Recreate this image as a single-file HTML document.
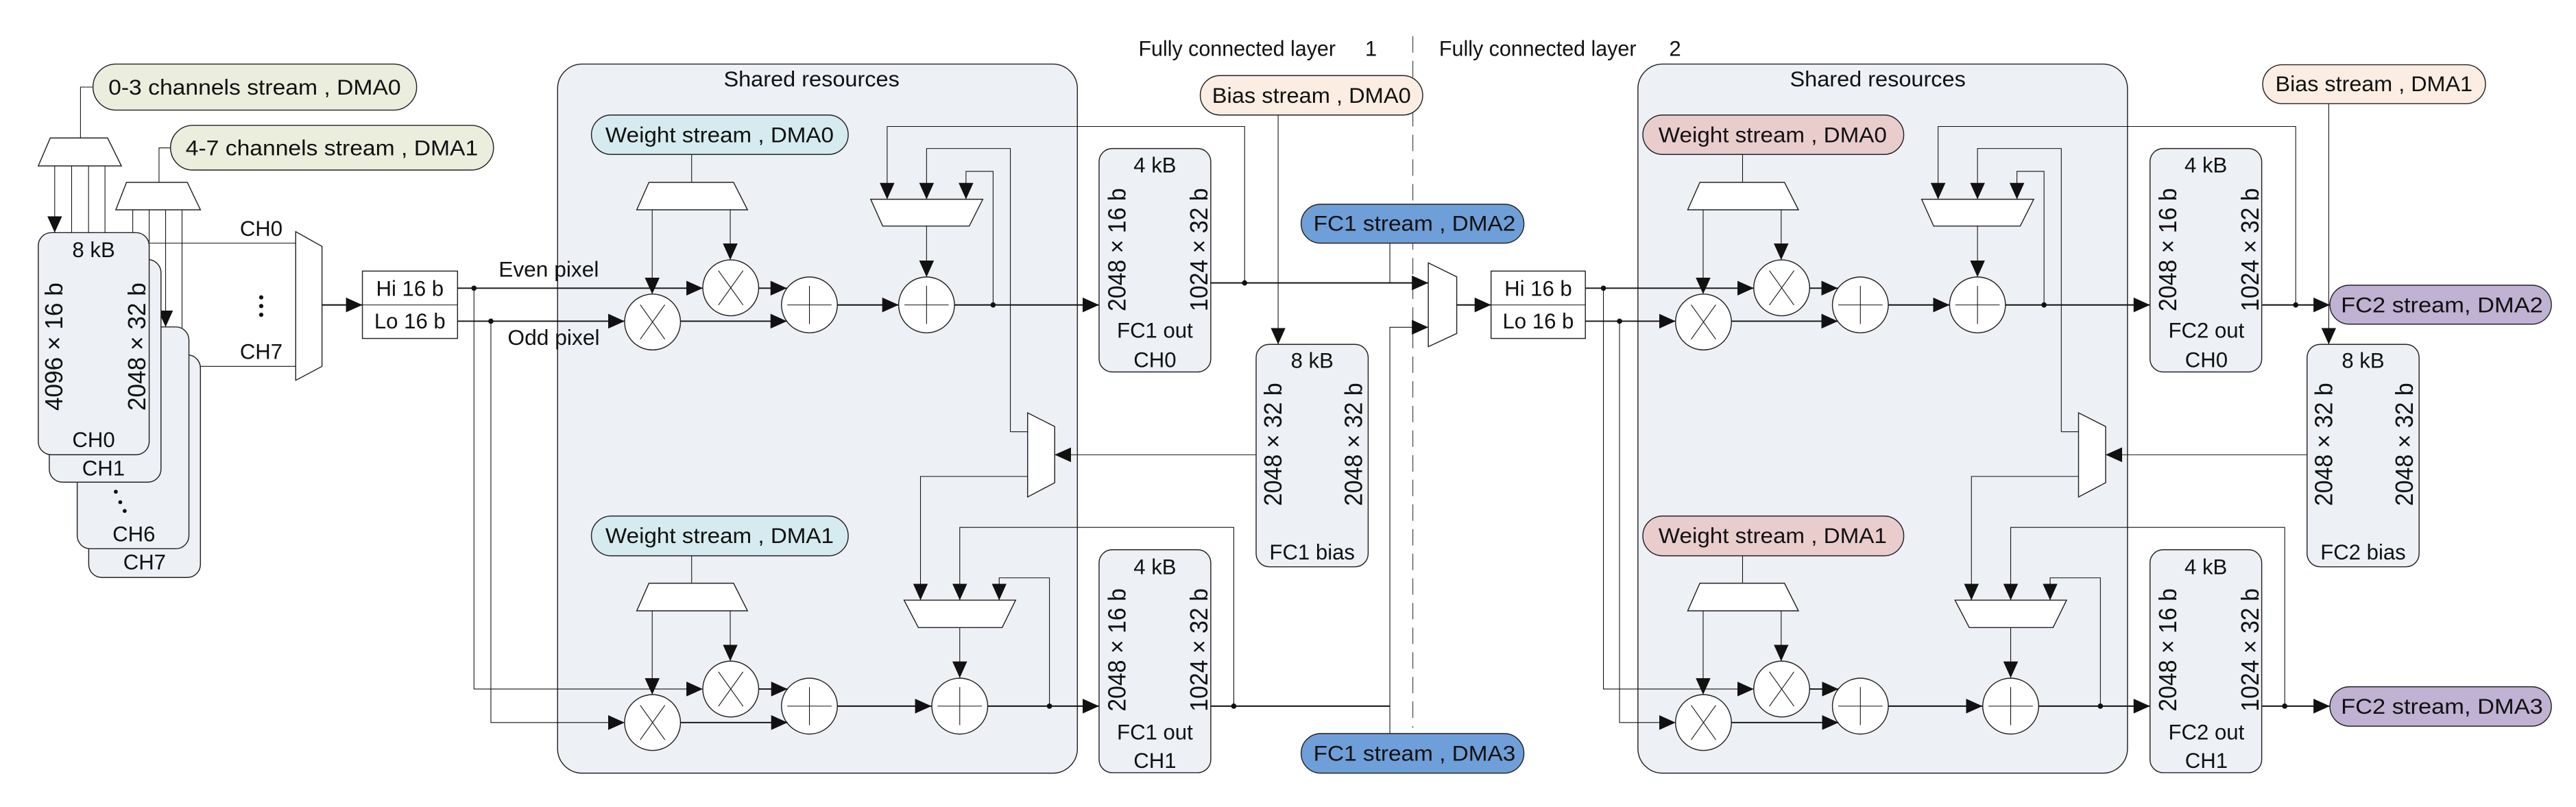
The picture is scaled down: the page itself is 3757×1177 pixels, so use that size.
<!DOCTYPE html>
<html><head><meta charset="utf-8"><style>
html,body{margin:0;padding:0;background:#fff;}
svg{display:block;}
text{font-family:"Liberation Sans",Arial,sans-serif;font-size:13px;fill:#111;}
.r{font-size:15px;}
.t{stroke:#111;stroke-width:0.45;fill:none;}
.k{stroke:#111;stroke-width:0.8;fill:none;}
.bx{fill:#edf0f5;stroke:#222;stroke-width:0.6;}
.w{fill:#fff;stroke:#222;stroke-width:0.6;}
</style></head><body>
<svg width="3757" height="1177" viewBox="0 0 1568 491.2" preserveAspectRatio="none" xmlns="http://www.w3.org/2000/svg">
<defs>
<marker id="a" markerWidth="10" markerHeight="9" refX="10" refY="4.5" orient="auto" markerUnits="userSpaceOnUse"><path d="M0,0L10,4.5L0,9z" fill="#111"/></marker>
<g id="core">
  <!-- weight muxes -->
  <line class="t" x1="421" y1="94" x2="421" y2="111"/>
  <polygon class="w" points="395,111 446.5,111 455,127.7 387.6,127.7"/>
  <line class="t" x1="397" y1="127.7" x2="397" y2="179" marker-end="url(#a)"/>
  <line class="t" x1="444.5" y1="127.7" x2="444.5" y2="158.2" marker-end="url(#a)"/>
  <line class="t" x1="421" y1="338.3" x2="421" y2="355"/>
  <polygon class="w" points="395,355 446.5,355 455,371.8 387.6,371.8"/>
  <line class="t" x1="397" y1="371.8" x2="397" y2="422.8" marker-end="url(#a)"/>
  <line class="t" x1="444.5" y1="371.8" x2="444.5" y2="402.4" marker-end="url(#a)"/>
  <!-- mults -->
  <g class="w"><circle cx="397.2" cy="196" r="17"/><circle cx="444.8" cy="175.2" r="17"/><circle cx="397.2" cy="439.8" r="17"/><circle cx="444.8" cy="419.4" r="17"/></g>
  <path class="t" d="M389.7,185.5L404.7,206.5M404.7,185.5L389.7,206.5 M437.3,164.7L452.3,185.7M452.3,164.7L437.3,185.7 M389.7,429.3L404.7,450.3M404.7,429.3L389.7,450.3 M437.3,408.9L452.3,429.9M452.3,408.9L437.3,429.9"/>
  <!-- adds -->
  <g class="w"><circle cx="492.7" cy="185.6" r="17"/><circle cx="564" cy="185.6" r="17"/><circle cx="492.7" cy="429.8" r="17"/><circle cx="584.2" cy="429.8" r="17"/></g>
  <path class="t" d="M479.2,185.6H506.2M492.7,174V197.2 M550.5,185.6H577.5M564,174V197.2 M479.2,429.8H506.2M492.7,418.2V441.4 M570.7,429.8H597.7M584.2,418.2V441.4"/>
  <line class="k" x1="461.8" y1="175.4" x2="479" y2="175.4" marker-end="url(#a)"/>
  <line class="k" x1="414.2" y1="195.5" x2="479" y2="195.5" marker-end="url(#a)"/>
  <line class="k" x1="509.7" y1="185.6" x2="547" y2="185.6" marker-end="url(#a)"/>
  <line class="k" x1="581" y1="185.6" x2="669" y2="185.6" marker-end="url(#a)"/>
  <line class="k" x1="461.8" y1="419.4" x2="479.4" y2="419.4" marker-end="url(#a)"/>
  <line class="k" x1="414.2" y1="439.8" x2="479.4" y2="439.8" marker-end="url(#a)"/>
  <line class="k" x1="509.7" y1="429.8" x2="567" y2="429.8" marker-end="url(#a)"/>
  <line class="k" x1="601.2" y1="429.8" x2="669" y2="429.8" marker-end="url(#a)"/>
  <circle cx="604.5" cy="185.6" r="1.6" fill="#111"/>
  <circle cx="638.8" cy="429.8" r="1.6" fill="#111"/>
  <!-- acc muxes -->
  <polygon class="w" points="530,121.3 598.2,121.3 590,137.6 537.3,137.6"/>
  <line class="t" x1="564" y1="137.6" x2="564" y2="168.6" marker-end="url(#a)"/>
  <polyline class="t" points="615,262.8 615,90.4 564,90.4 564,121.3" marker-end="url(#a)"/>
  <polyline class="t" points="604.5,185.6 604.5,104.3 588,104.3 588,121.3" marker-end="url(#a)"/>
  <polygon class="w" points="625.5,251.3 642,259.6 642,293.8 625.5,302.5"/>
  <line class="t" x1="615" y1="262.8" x2="625.5" y2="262.8"/>
  <polyline class="t" points="625.5,290 560.3,290 560.3,365.3" marker-end="url(#a)"/>
  <line class="t" x1="764.6" y1="276.8" x2="642" y2="276.8" marker-end="url(#a)"/>
  <polygon class="w" points="550.3,365.3 618.2,365.3 610,382 559,382"/>
  <line class="t" x1="584.2" y1="382" x2="584.2" y2="412.6" marker-end="url(#a)"/>
  <polyline class="t" points="751,429.8 751,321 584.2,321 584.2,365.3" marker-end="url(#a)"/>
  <polyline class="t" points="638.8,429.8 638.8,351.7 608.2,351.7 608.2,365.3" marker-end="url(#a)"/>
  <!-- boxes -->
  <rect class="bx" x="669" y="90.4" width="68" height="136" rx="8"/>
  <rect class="bx" x="669" y="334.6" width="68" height="135.7" rx="8"/>
  <rect class="bx" x="764.6" y="209.6" width="68.2" height="135.4" rx="8"/>
  <g class="r">
  <text class="r" transform="translate(685,152) rotate(-90)" text-anchor="middle" textLength="75" lengthAdjust="spacingAndGlyphs">2048 × 16 b</text>
  <text class="r" transform="translate(735,152) rotate(-90)" text-anchor="middle" textLength="75" lengthAdjust="spacingAndGlyphs">1024 × 32 b</text>
  <text class="r" transform="translate(685,395.6) rotate(-90)" text-anchor="middle" textLength="75" lengthAdjust="spacingAndGlyphs">2048 × 16 b</text>
  <text class="r" transform="translate(735,395.6) rotate(-90)" text-anchor="middle" textLength="75" lengthAdjust="spacingAndGlyphs">1024 × 32 b</text>
  <text class="r" transform="translate(780,270.5) rotate(-90)" text-anchor="middle" textLength="75" lengthAdjust="spacingAndGlyphs">2048 × 32 b</text>
  <text class="r" transform="translate(829,270.5) rotate(-90)" text-anchor="middle" textLength="75" lengthAdjust="spacingAndGlyphs">2048 × 32 b</text>
  </g>
  <text x="703" y="105" text-anchor="middle">4 kB</text>
  <text x="703" y="349.5" text-anchor="middle">4 kB</text>
  <text x="798.7" y="224" text-anchor="middle">8 kB</text>
</g>
</defs>

<!-- shared resource boxes -->
<rect class="bx" x="339.4" y="39" width="316.4" height="431.6" rx="15"/>
<rect class="bx" x="997" y="39" width="298" height="431.6" rx="15"/>
<text x="494" y="52.5" text-anchor="middle" textLength="107" lengthAdjust="spacingAndGlyphs">Shared resources</text>
<text x="1143" y="52.5" text-anchor="middle" textLength="107" lengthAdjust="spacingAndGlyphs">Shared resources</text>

<!-- headers & divider -->
<text x="693" y="34" textLength="120" lengthAdjust="spacingAndGlyphs">Fully connected layer</text>
<text x="834.5" y="34" text-anchor="middle">1</text>
<text x="876" y="34" textLength="120" lengthAdjust="spacingAndGlyphs">Fully connected layer</text>
<text x="1019.6" y="34" text-anchor="middle">2</text>
<line x1="860" y1="22" x2="860" y2="443" stroke="#333" stroke-width="0.45" stroke-dasharray="10 5"/>

<!-- input DMA and channel memories -->
<polyline class="t" points="56.6,53 49,53 49,84"/>
<polygon class="w" points="30.6,84 65.5,84 73.9,101 23.3,101"/>
<polyline class="t" points="103.8,90 96.8,90 96.8,111"/>
<polygon class="w" points="77,111 114,111 122,127.7 70.5,127.7"/>
<line class="t" x1="33.3" y1="101" x2="33.3" y2="141.6" marker-end="url(#a)"/>
<line class="t" x1="43.6" y1="101" x2="43.6" y2="158"/>
<line class="t" x1="53.9" y1="101" x2="53.9" y2="199"/>
<line class="t" x1="63.9" y1="101" x2="63.9" y2="216"/>
<line class="t" x1="80.8" y1="127.7" x2="80.8" y2="158"/>
<line class="t" x1="90.8" y1="127.7" x2="90.8" y2="180"/>
<line class="t" x1="100.8" y1="127.7" x2="100.8" y2="199" marker-end="url(#a)"/>
<line class="t" x1="110.8" y1="127.7" x2="110.8" y2="216"/>
<rect class="bx" x="54" y="216" width="68" height="135.5" rx="8"/>
<rect class="bx" x="47" y="199" width="68" height="135" rx="8"/>
<rect class="bx" x="30" y="158" width="68" height="135.5" rx="8"/>
<rect class="bx" x="23.3" y="141.6" width="67.5" height="135.2" rx="8"/>
<text x="57" y="156.5" text-anchor="middle">8 kB</text>
<text class="r" transform="translate(38,211) rotate(-90)" text-anchor="middle" textLength="78" lengthAdjust="spacingAndGlyphs">4096 × 16 b</text>
<text class="r" transform="translate(88.5,211) rotate(-90)" text-anchor="middle" textLength="78" lengthAdjust="spacingAndGlyphs">2048 × 32 b</text>
<text x="57" y="272" text-anchor="middle">CH0</text>
<text x="63" y="289.5" text-anchor="middle">CH1</text>
<text x="81.5" y="329.5" text-anchor="middle">CH6</text>
<text x="88" y="346.5" text-anchor="middle">CH7</text>
<circle cx="70.5" cy="299.3" r="1.2" fill="#111"/><circle cx="73.2" cy="305.7" r="1.2" fill="#111"/><circle cx="75.9" cy="311" r="1.2" fill="#111"/>

<!-- pills -->
<rect x="56.6" y="39" width="197" height="28" rx="14" fill="#ebeedd" stroke="#222" stroke-width="0.6"/>
<text x="155" y="57.5" text-anchor="middle" textLength="178" lengthAdjust="spacingAndGlyphs">0-3 channels stream , DMA0</text>
<rect x="103.8" y="76.3" width="196.6" height="27.2" rx="13.6" fill="#ebeedd" stroke="#222" stroke-width="0.6"/>
<text x="202" y="94.5" text-anchor="middle" textLength="178" lengthAdjust="spacingAndGlyphs">4-7 channels stream , DMA1</text>

<!-- channel mux -->
<line class="t" x1="90.8" y1="148" x2="180" y2="148"/>
<line class="t" x1="122" y1="223" x2="180" y2="223"/>
<text x="159" y="143.5" text-anchor="middle">CH0</text>
<text x="159" y="218.5" text-anchor="middle">CH7</text>
<circle cx="159" cy="181" r="1.3" fill="#111"/><circle cx="159" cy="186.3" r="1.3" fill="#111"/><circle cx="159" cy="191.6" r="1.3" fill="#111"/>
<polygon class="w" points="180,141 196,150 196,223 180,231.5"/>
<line class="k" x1="196" y1="185.6" x2="220.6" y2="185.6" marker-end="url(#a)"/>

<!-- Hi/Lo left -->
<rect class="w" x="220.6" y="165" width="57.9" height="41"/>
<line class="t" x1="220.6" y1="185.6" x2="278.5" y2="185.6"/>
<text x="249.5" y="180" text-anchor="middle">Hi 16 b</text>
<text x="249.5" y="200" text-anchor="middle">Lo 16 b</text>
<text x="334" y="168.5" text-anchor="middle" textLength="61" lengthAdjust="spacingAndGlyphs">Even pixel</text>
<text x="337" y="210" text-anchor="middle" textLength="56" lengthAdjust="spacingAndGlyphs">Odd pixel</text>
<line class="k" x1="278.5" y1="175.4" x2="427.8" y2="175.4" marker-end="url(#a)"/>
<line class="k" x1="278.5" y1="195.5" x2="380.2" y2="195.5" marker-end="url(#a)"/>
<polyline class="t" points="288.5,175.4 288.5,419.4 427.8,419.4" marker-end="url(#a)"/>
<polyline class="t" points="298.8,195.5 298.8,439.8 380.2,439.8" marker-end="url(#a)"/>
<circle cx="288.5" cy="175.4" r="1.6" fill="#111"/><circle cx="298.8" cy="195.5" r="1.6" fill="#111"/>

<!-- core left and right -->
<use href="#core"/>
<use href="#core" transform="translate(639.7,0)"/>

<!-- weight pills -->
<rect x="360" y="70" width="156.3" height="24" rx="12" fill="#d5ebef" stroke="#222" stroke-width="0.6"/>
<text x="438" y="86.5" text-anchor="middle" textLength="139" lengthAdjust="spacingAndGlyphs">Weight stream , DMA0</text>
<rect x="360" y="314.1" width="156.3" height="24.2" rx="12" fill="#d5ebef" stroke="#222" stroke-width="0.6"/>
<text x="438" y="330.5" text-anchor="middle" textLength="139" lengthAdjust="spacingAndGlyphs">Weight stream , DMA1</text>
<rect x="1000" y="70" width="158.8" height="24" rx="12" fill="#e9cdcc" stroke="#222" stroke-width="0.6"/>
<text x="1079" y="86.5" text-anchor="middle" textLength="139" lengthAdjust="spacingAndGlyphs">Weight stream , DMA0</text>
<rect x="1000" y="314.1" width="158.8" height="24.2" rx="12" fill="#e9cdcc" stroke="#222" stroke-width="0.6"/>
<text x="1079" y="330.5" text-anchor="middle" textLength="139" lengthAdjust="spacingAndGlyphs">Weight stream , DMA1</text>

<!-- left FC1 specifics -->
<text x="703" y="205.5" text-anchor="middle">FC1 out</text>
<text x="703" y="223.5" text-anchor="middle">CH0</text>
<text x="703" y="450" text-anchor="middle">FC1 out</text>
<text x="703" y="467.5" text-anchor="middle">CH1</text>
<text x="798.7" y="340.5" text-anchor="middle">FC1 bias</text>
<polyline class="t" points="757.6,172.2 757.6,77 540,77 540,121.3" marker-end="url(#a)"/>
<line class="k" x1="737" y1="172.2" x2="869.4" y2="172.2" marker-end="url(#a)"/>
<circle cx="757.6" cy="172.2" r="1.6" fill="#111"/>
<line class="k" x1="737" y1="429.8" x2="846" y2="429.8"/>
<circle cx="751" cy="429.8" r="1.6" fill="#111"/>
<line class="t" x1="778" y1="70" x2="778" y2="209.6" marker-end="url(#a)"/>
<rect x="730.6" y="46" width="135.4" height="24" rx="12" fill="#fcede2" stroke="#222" stroke-width="0.6"/>
<text x="798.3" y="62.5" text-anchor="middle" textLength="121" lengthAdjust="spacingAndGlyphs">Bias stream , DMA0</text>
<line class="t" x1="846" y1="148" x2="846" y2="172.2"/>
<polyline class="t" points="846,446.5 846,199.2 869.4,199.2" marker-end="url(#a)"/>
<rect x="792" y="124.3" width="135.6" height="23.7" rx="11.8" fill="#6f9fd8" stroke="#222" stroke-width="0.6"/>
<text x="861" y="140.5" text-anchor="middle" textLength="123" lengthAdjust="spacingAndGlyphs">FC1 stream , DMA2</text>
<rect x="792" y="446.5" width="135.6" height="24.1" rx="12" fill="#6f9fd8" stroke="#222" stroke-width="0.6"/>
<text x="861" y="463" text-anchor="middle" textLength="123" lengthAdjust="spacingAndGlyphs">FC1 stream , DMA3</text>
<polygon class="w" points="869.4,160 886.7,168.5 886.7,203 869.4,211"/>
<line class="k" x1="886.7" y1="185.6" x2="907.6" y2="185.6" marker-end="url(#a)"/>

<!-- Hi/Lo right -->
<rect class="w" x="907.6" y="165" width="57.4" height="41"/>
<line class="t" x1="907.6" y1="185.6" x2="965" y2="185.6"/>
<text x="936.3" y="180" text-anchor="middle">Hi 16 b</text>
<text x="936.3" y="200" text-anchor="middle">Lo 16 b</text>
<line class="k" x1="965" y1="175.4" x2="1067.5" y2="175.4" marker-end="url(#a)"/>
<line class="k" x1="965" y1="195.5" x2="1019.9" y2="195.5" marker-end="url(#a)"/>
<polyline class="t" points="976,175.4 976,419.4 1067.5,419.4" marker-end="url(#a)"/>
<polyline class="t" points="985.8,195.5 985.8,439.8 1019.9,439.8" marker-end="url(#a)"/>
<circle cx="976" cy="175.4" r="1.6" fill="#111"/><circle cx="985.8" cy="195.5" r="1.6" fill="#111"/>

<!-- right FC2 specifics -->
<text x="1343" y="205.5" text-anchor="middle">FC2 out</text>
<text x="1343" y="223.5" text-anchor="middle">CH0</text>
<text x="1343" y="450" text-anchor="middle">FC2 out</text>
<text x="1343" y="467.5" text-anchor="middle">CH1</text>
<text x="1438.4" y="340.5" text-anchor="middle">FC2 bias</text>
<polyline class="t" points="1397.4,185.6 1397.4,77 1179.7,77 1179.7,121.3" marker-end="url(#a)"/>
<line class="k" x1="1377" y1="185.6" x2="1418.2" y2="185.6" marker-end="url(#a)"/>
<circle cx="1397.4" cy="185.6" r="1.6" fill="#111"/>
<line class="k" x1="1377" y1="429.8" x2="1418.2" y2="429.8" marker-end="url(#a)"/>
<circle cx="1390.7" cy="429.8" r="1.6" fill="#111"/>
<line class="t" x1="1417.5" y1="63.1" x2="1417.5" y2="209.6" marker-end="url(#a)"/>
<rect x="1377.3" y="39.4" width="135.6" height="23.7" rx="11.8" fill="#fcede2" stroke="#222" stroke-width="0.6"/>
<text x="1445" y="55.5" text-anchor="middle" textLength="120" lengthAdjust="spacingAndGlyphs">Bias stream , DMA1</text>
<rect x="1418.2" y="173.6" width="134.8" height="23.7" rx="11.8" fill="#bfb2d3" stroke="#222" stroke-width="0.6"/>
<text x="1486.4" y="190" text-anchor="middle" textLength="123" lengthAdjust="spacingAndGlyphs">FC2 stream, DMA2</text>
<rect x="1418.2" y="418" width="134.8" height="24" rx="12" fill="#bfb2d3" stroke="#222" stroke-width="0.6"/>
<text x="1486.4" y="434.5" text-anchor="middle" textLength="123" lengthAdjust="spacingAndGlyphs">FC2 stream, DMA3</text>
</svg>
</body></html>
